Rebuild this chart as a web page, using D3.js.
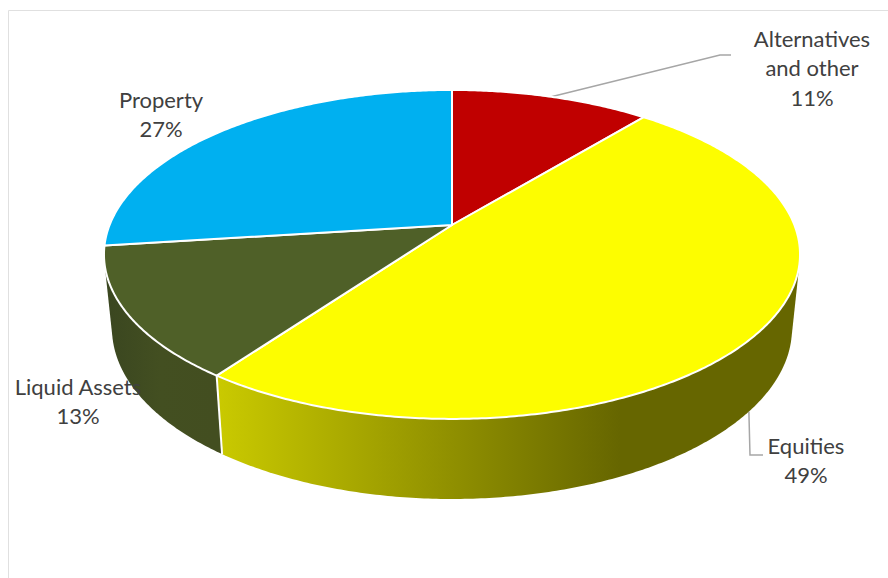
<!DOCTYPE html>
<html>
<head>
<meta charset="utf-8">
<script src="https://cdn.jsdelivr.net/npm/d3@7"></script>
<style>
  html, body { margin: 0; padding: 0; background: #fff; }
  svg { display: block; }
  text { font-family: Lato, "Open Sans", sans-serif; font-size: 22px; fill: #404040; text-anchor: middle; }
</style>
</head>
<body>
<svg id="chart" width="888" height="578"></svg>
<script>
// Portfolio allocation, percent of total
const categories = ["Alternatives and other", "Equities", "Liquid Assets", "Property"];
const shares = [11, 49, 13, 27];
const faceColours = ["#C00000", "#FDFD00", "#4F6028", "#00B0F0"];
const labelLines = [["Alternatives", "and other"], ["Equities"], ["Liquid Assets"], ["Property"]];

const svg = d3.select("#chart");

// Chart frame: only the top and left edges fall inside the window
svg.append("path")
  .attr("d", "M8.5,578V10.5H888")
  .attr("fill", "none")
  .attr("stroke", "#e0e0e0");

// Perspective projection of a disc: top face and the smaller, lower base
const tilt = 0.179;
const topDisc = { x0: 452, y0: 225, rx: 342.4, ry: 159.2 };
const baseDisc = { x0: 452, y0: 298, rx: 334.5, ry: 165 };

function project(disc, angle) {
  const u = Math.sin(angle), v = -Math.cos(angle), w = 1 - tilt * v;
  return [disc.x0 + disc.rx * u / w, disc.y0 + disc.ry * v / w];
}

const arcPoints = (disc, a0, a1) => {
  const n = Math.max(2, Math.ceil((a1 - a0) / 0.01));
  return d3.range(n + 1).map(i => project(disc, a0 + (a1 - a0) * i / n));
};

const slices = d3.pie().value(d => d).sort(null)(shares);
const line = d3.line();

const defs = svg.append("defs");
const equityWall = defs.append("linearGradient")
  .attr("id", "equity-wall")
  .attr("gradientUnits", "userSpaceOnUse")
  .attr("x1", 208).attr("x2", 620).attr("y1", 0).attr("y2", 0);
equityWall.append("stop").attr("offset", 0).attr("stop-color", "#CCCC00");
equityWall.append("stop").attr("offset", 1).attr("stop-color", "#666600");

const liquidWall = defs.append("linearGradient")
  .attr("id", "liquid-wall")
  .attr("gradientUnits", "userSpaceOnUse")
  .attr("x1", 105).attr("x2", 215).attr("y1", 0).attr("y2", 0);
liquidWall.append("stop").attr("offset", 0).attr("stop-color", "#3A4620");
liquidWall.append("stop").attr("offset", 0.5).attr("stop-color", "#434F21");
liquidWall.append("stop").attr("offset", 1).attr("stop-color", "#434E20");

// Leader lines run from the middle of a slice's rim to its label,
// and start underneath the pie
const midAngle = s => (s.startAngle + s.endAngle) / 2;
const leaders = [
  { slice: 0, disc: topDisc, elbow: [720, 55], end: [731, 55] },
  { slice: 1, disc: baseDisc, elbow: [750, 455], end: [763, 455] }
];
svg.append("g").selectAll("path")
  .data(leaders)
  .join("path")
  .attr("d", d => line([project(d.disc, midAngle(slices[d.slice])), d.elbow, d.end]))
  .attr("fill", "none")
  .attr("stroke", "#a6a6a6")
  .attr("stroke-width", 1.5);

// Outer walls for the slices facing the viewer; the hull of both rims gives
// the straight silhouette edges, and the top faces cover the rest of it
const wallFill = { 1: "url(#equity-wall)", 2: "url(#liquid-wall)" };
[2, 1].forEach(i => {
  const s = slices[i];
  const hull = d3.polygonHull(
    arcPoints(topDisc, s.startAngle, s.endAngle)
      .concat(arcPoints(baseDisc, s.startAngle, s.endAngle))
  );
  svg.append("path")
    .attr("d", line(hull) + "Z")
    .attr("fill", wallFill[i]);
});

// Seam between the two visible walls
const seamAngle = slices[1].endAngle;
svg.append("path")
  .attr("d", line([project(topDisc, seamAngle), project(baseDisc, seamAngle)]))
  .attr("stroke", "#fff")
  .attr("stroke-width", 2);

// Top faces
svg.append("g").selectAll("path")
  .data(slices)
  .join("path")
  .attr("d", s => line([[topDisc.x0, topDisc.y0]].concat(arcPoints(topDisc, s.startAngle, s.endAngle))) + "Z")
  .attr("fill", (s, i) => faceColours[i])
  .attr("stroke", "#fff")
  .attr("stroke-width", 2)
  .attr("stroke-linejoin", "round");

// Labels: category lines followed by the share
const labelAnchors = [[812, 47], [806, 454], [78, 395], [161, 108]];
const lineStep = 29.3;
const labels = svg.append("g").selectAll("text")
  .data(shares)
  .join("text")
  .attr("transform", (d, i) => `translate(${labelAnchors[i]})`);
labels.each(function (d, i) {
  const rows = labelLines[i].concat(d3.format("d")(d) + "%");
  d3.select(this).selectAll("tspan")
    .data(rows)
    .join("tspan")
    .attr("x", 0)
    .attr("y", (r, j) => j * lineStep)
    .text(r => r);
});
labels.append("title").text((d, i) => categories[i]);
</script>
</body>
</html>
